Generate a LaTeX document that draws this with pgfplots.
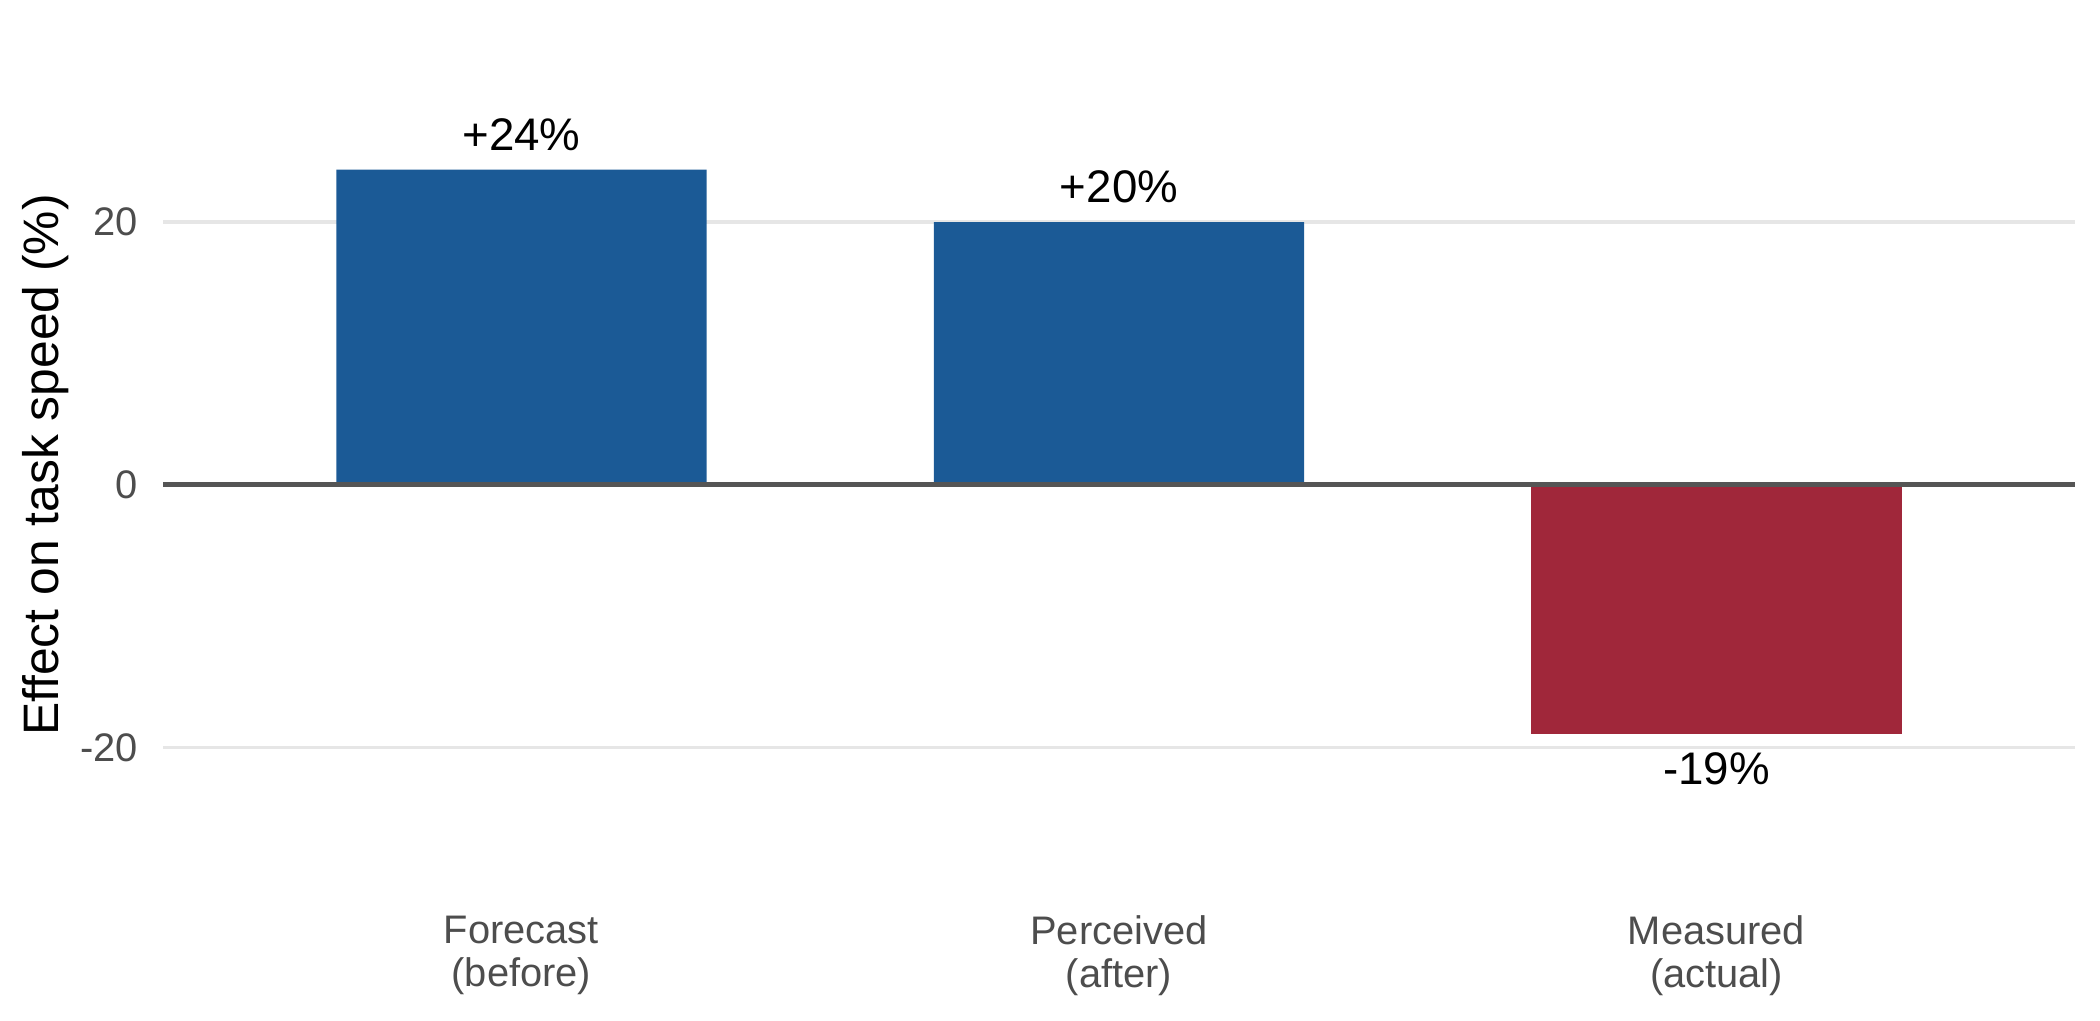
\documentclass[border=0pt]{standalone}
\usepackage{fontspec}
\setmainfont{Liberation Sans}
\usepackage{pgfplots}
\pgfplotsset{compat=1.18}
\definecolor{barblue}{HTML}{1B5A96}
\definecolor{barred}{HTML}{A0273A}
\definecolor{zerogray}{HTML}{555555}
\definecolor{gridgray}{HTML}{E6E6E6}
\definecolor{ticktext}{HTML}{4D4D4D}
\begin{document}
\begin{tikzpicture}
\begin{axis}[
  scale only axis,
  width=460.6pt, height=212.0pt,
  xmin=0.4, xmax=3.6, ymin=-32, ymax=35,
  axis line style={draw=none},
  tick style={draw=none},
  major tick length=0pt,
  xtick={1,2,3},
  xticklabels={{Forecast\\(before)},{Perceived\\(after)},{Measured\\(actual)}},
  ytick={-20,0,20},
  ymajorgrids,
  grid style={color=gridgray, line width=0.9pt},
  /pgf/number format/assume math mode=true,
  x tick label style={font=\fontsize{9.6}{10.36}\selectfont, text=ticktext, align=center, anchor=north, inner sep=0pt, yshift=-2.4pt},
  y tick label style={font=\fontsize{9.6}{11}\selectfont, text=ticktext, anchor=east, inner sep=0pt, xshift=-5.8pt},
  yticklabels={-20,0,20},
  ylabel={Effect on task speed (\%)},
  ylabel style={font=\fontsize{12}{14}\selectfont, at={(axis description cs:0,0.5)}, anchor=center, yshift=28.2pt},
  ybar, bar width=0.62,
  every node near coord/.append style={font=\fontsize{11}{13}\selectfont, text=black, inner sep=0pt, outer sep=4.5pt},
]
\addplot[draw=none, fill=barblue, bar shift=0pt, nodes near coords, point meta=explicit symbolic,
  every node near coord/.append style={anchor=south}]
  coordinates {(1,24) [+24\%] (2,20) [+20\%]};
\addplot[draw=none, fill=barred, bar shift=0pt, nodes near coords, point meta=explicit symbolic,
  every node near coord/.append style={anchor=north}]
  coordinates {(3,-19) [-19\%]};
\draw[zerogray, line width=1.3pt] (axis cs:0.4,0) -- (axis cs:3.6,0);
\end{axis}
\pgfresetboundingbox
\path[use as bounding box] ({-163*0.2409pt},{-115*0.2409pt}) rectangle ({1937*0.2409pt},{905*0.2409pt});
\end{tikzpicture}
\end{document}
